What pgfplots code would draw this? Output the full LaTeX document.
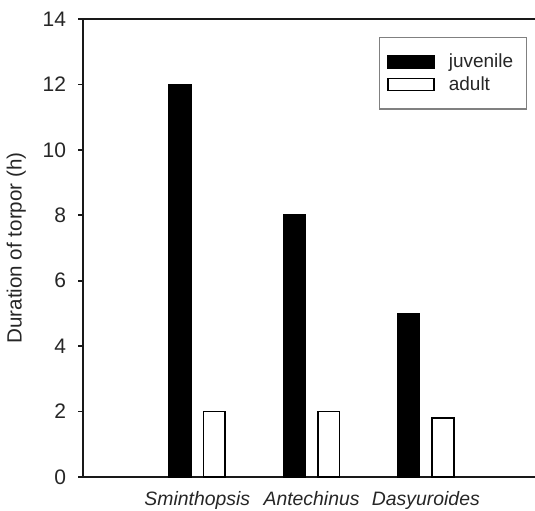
\documentclass[border=0pt]{standalone}
\usepackage{fontspec}
\setmainfont{Liberation Sans}
\usepackage{pgfplots}
\pgfplotsset{compat=1.18}
\begin{document}
\begin{tikzpicture}
\path[use as bounding box] (-41.5pt,-16.5pt) rectangle (226pt,238.5pt);
\begin{axis}[
  at={(0,0)}, anchor=south west,
  scale only axis, width=226pt, height=229pt,
  xmin=0, xmax=3.955, ymin=0, ymax=14,
  axis x line*=box, axis y line*=left,
  axis line style={line width=1pt, color=black!90},
  xtick={1,2,3},
  xticklabels={\textit{Sminthopsis},\textit{Antechinus},\textit{Dasyuroides}},
  x tick style={draw=none},
  x tick label style={font=\fontsize{9.7}{11}\selectfont, color=black!85, yshift=-1pt},
  ytick={0,2,...,14},
  tick align=outside,
  major tick length=2.5pt,
  y tick style={line width=0.8pt, color=black!90},
  y tick label style={font=\fontsize{10.5}{12}\selectfont, color=black!85, xshift=-2.5pt},
  /pgf/number format/assume math mode=true,
  ylabel={Duration of torpor (h)},
  ylabel style={font=\fontsize{10.3}{12}\selectfont, color=black!85, yshift=1.5pt},
  legend style={at={(axis description cs:0.982,0.961)}, anchor=north east,
    draw=black!50, line width=0.6pt, font=\fontsize{9.5}{11}\selectfont, text=black!85,
    inner xsep=4pt, inner ysep=6pt, row sep=-1pt},
  legend cell align=left,
  legend image code/.code={\draw[#1, line width=0.8pt] (0pt,-3pt) rectangle (23pt,3pt); \path (28pt,0pt);},
]
\addplot[ybar, bar width=0.19, bar shift=-0.15, fill=black, draw=black, line width=0.8pt]
  coordinates {(1,12) (2,8) (3,5)};
\addlegendentry{juvenile\hspace*{0.5pt}}
\addplot[ybar, bar width=0.19, bar shift=0.15, fill=white, draw=black, line width=0.8pt]
  coordinates {(1,2) (2,2) (3,1.8)};
\addlegendentry{adult}
\end{axis}
\end{tikzpicture}
\end{document}
